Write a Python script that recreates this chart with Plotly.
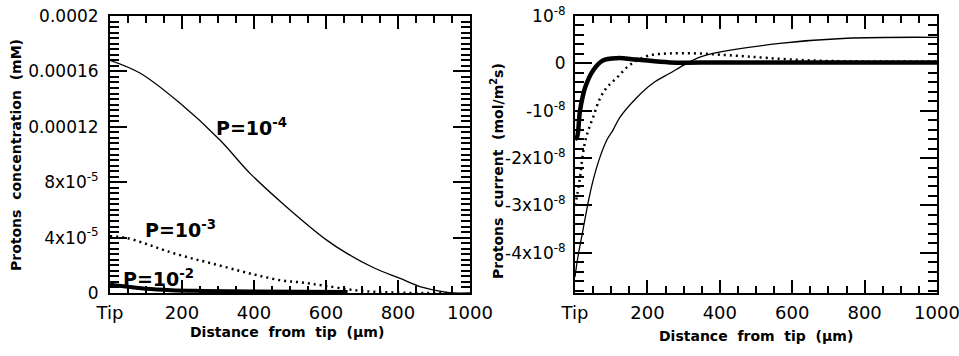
import plotly.graph_objects as go

# ---------- data: left panel (proton concentration, mM) ----------
dist_p4 = [0, 83, 194, 306, 389, 492, 603, 658, 731, 806, 869, 936, 953, 1000]
conc_p4 = [1.68e-4, 1.588e-4, 1.371e-4, 1.103e-4, 0.864e-4, 0.618e-4, 0.380e-4,
           0.286e-4, 0.184e-4, 0.105e-4, 0.040e-4, 0.004e-4, 0.0, 0.0]

dist_p3 = [0, 42, 97, 153, 217, 283, 356, 411, 478, 533, 592, 686, 778, 869, 950]
conc_p3 = [4.1e-5, 4.0e-5, 3.58e-5, 3.07e-5, 2.57e-5, 2.13e-5, 1.63e-5, 1.27e-5,
           0.90e-5, 0.76e-5, 0.54e-5, 0.18e-5, 0.04e-5, 0.0, 0.0]

dist_p2 = [0, 50, 100, 170, 250, 400, 660]
conc_p2 = [0.6e-5, 0.45e-5, 0.3e-5, 0.2e-5, 0.15e-5, 0.1e-5, 0.08e-5]

# ---------- data: right panel (proton current, mol/m2s) ----------
cdist_p2 = [0, 5.5, 14, 28, 50, 77, 116, 171, 262, 400, 600, 800, 1000]
curr_p2 = [-1.6e-8, -1.56e-8, -0.99e-8, -0.51e-8, -0.15e-8, 0.06e-8, 0.11e-8,
           0.08e-8, 0.02e-8, 0.02e-8, 0.02e-8, 0.02e-8, 0.02e-8]

cdist_p3 = [0, 5.5, 14, 22, 33, 50, 69, 88, 116, 144, 171, 207, 262, 337, 428, 657, 1000]
curr_p3 = [-3.0e-8, -2.8e-8, -2.4e-8, -1.9e-8, -1.5e-8, -1.14e-8, -0.74e-8, -0.51e-8,
           -0.30e-8, -0.08e-8, 0.06e-8, 0.17e-8, 0.21e-8, 0.21e-8, 0.17e-8, 0.06e-8, 0.04e-8]

cdist_p4 = [0, 8, 22, 36, 50, 69, 88, 105, 124, 171, 215, 262, 309, 345, 381, 566, 751, 1000]
curr_p4 = [-4.51e-8, -4.09e-8, -3.52e-8, -2.95e-8, -2.47e-8, -1.98e-8, -1.62e-8, -1.41e-8,
           -1.14e-8, -0.72e-8, -0.42e-8, -0.21e-8, 0.0, 0.13e-8, 0.21e-8, 0.42e-8, 0.53e-8, 0.55e-8]

# ---------- tick labels ----------
x_tickvals = [0, 200, 400, 600, 800, 1000]
x_ticktext = ["Tip", "200", "400", "600", "800", "1000"]
yl_tickvals = [0, 4e-5, 8e-5, 1.2e-4, 1.6e-4, 2e-4]
yl_ticktext = ["0", "4x10<sup>-5</sup>", "8x10<sup>-5</sup>", "0.00012", "0.00016", "0.0002"]
yr_tickvals = [-4e-8, -3e-8, -2e-8, -1e-8, 0, 1e-8]
yr_ticktext = ["-4x10<sup>-8</sup>", "-3x10<sup>-8</sup>", "-2x10<sup>-8</sup>",
               "-10<sup>-8</sup>", "0", "10<sup>-8</sup>"]

FONT = "DejaVu Sans, Arial, sans-serif"
W, H = 959, 356

fig = go.Figure()
fig.add_trace(go.Scatter(x=dist_p4, y=conc_p4, mode="lines", line=dict(color="black", width=1.3),
                         xaxis="x", yaxis="y", line_shape="spline"))
fig.add_trace(go.Scatter(x=dist_p3, y=conc_p3, mode="lines",
                         line=dict(color="black", width=2.5, dash="2px,4px"),
                         xaxis="x", yaxis="y", line_shape="spline"))
fig.add_trace(go.Scatter(x=dist_p2, y=conc_p2, mode="lines", line=dict(color="black", width=4),
                         xaxis="x", yaxis="y", line_shape="spline"))

fig.add_trace(go.Scatter(x=cdist_p4, y=curr_p4, mode="lines", line=dict(color="black", width=1.3),
                         xaxis="x2", yaxis="y2", line_shape="spline"))
fig.add_trace(go.Scatter(x=cdist_p3, y=curr_p3, mode="lines",
                         line=dict(color="black", width=2.5, dash="2px,4px"),
                         xaxis="x2", yaxis="y2", line_shape="spline"))
fig.add_trace(go.Scatter(x=cdist_p2, y=curr_p2, mode="lines", line=dict(color="black", width=4.5),
                         xaxis="x2", yaxis="y2", line_shape="spline"))

common = dict(showgrid=False, zeroline=False, showline=True, linecolor="black", linewidth=2,
              mirror="allticks", ticks="inside", tickcolor="black", tickwidth=2,
              automargin=False, ticklabeloverflow="allow")
minor_x = dict(dtick=50, ticks="inside", ticklen=7, tickwidth=1.5, tickcolor="black")

ydom = [1 - 293 / H, 1 - 16 / H]
fig.update_layout(
    template="none",
    width=W, height=H, margin=dict(l=0, r=0, t=0, b=0, pad=0, autoexpand=False),
    paper_bgcolor="white", plot_bgcolor="white", showlegend=False,
    xaxis=dict(domain=[110 / W, 470 / W], range=[0, 1000], tickvals=x_tickvals, ticktext=x_ticktext,
               ticklen=13, minor=minor_x, anchor="y", ticklabelstandoff=2,
               tickfont=dict(family=FONT, size=18, color="black"), **common),
    yaxis=dict(domain=ydom, range=[0, 2e-4], tickvals=yl_tickvals, ticktext=yl_ticktext,
               ticklen=17, minor=dict(dtick=4e-6, ticks="inside", ticklen=9, tickwidth=1.5, tickcolor="black"),
               anchor="x", ticklabelstandoff=6,
               tickfont=dict(family=FONT, size=17, color="black"), **common),
    xaxis2=dict(domain=[575 / W, 937 / W], range=[0, 1000], tickvals=x_tickvals, ticktext=x_ticktext,
                ticklen=13, minor=minor_x, anchor="y2", ticklabelstandoff=2,
                tickfont=dict(family=FONT, size=18, color="black"), **common),
    yaxis2=dict(domain=ydom, range=[-4.85e-8, 1.0e-8], tickvals=yr_tickvals, ticktext=yr_ticktext,
                ticklen=17, minor=dict(dtick=2e-9, ticks="inside", ticklen=9, tickwidth=1.5, tickcolor="black"),
                anchor="x2", ticklabelstandoff=4,
                tickfont=dict(family=FONT, size=17, color="black"), **common),
)

lab = dict(family=FONT, size=19, color="black")
for xv, yv, t in [(392, 1.197e-4, "-4"), (197, 4.59e-5, "-3"), (136, 1.05e-5, "-2")]:
    fig.add_annotation(x=xv, y=yv, xref="x", yref="y", text="<b>P=10<sup>" + t + "</sup></b>",
                       showarrow=False, font=lab, xanchor="center", yanchor="middle")

tfont = dict(family=FONT, size=14, color="black")
ann = dict(xref="paper", yref="paper", showarrow=False, font=tfont, xanchor="center", yanchor="middle")
fig.add_annotation(x=287 / W, y=1 - 332 / H, text="<b>Distance\u00a0 from\u00a0 tip\u00a0 (µm)</b>", **ann)
fig.add_annotation(x=756 / W, y=1 - 336 / H, text="<b>Distance\u00a0 from\u00a0 tip\u00a0 (µm)</b>", **ann)
fig.add_annotation(x=16 / W, y=1 - 155 / H, textangle=-90,
                   text="<b>Protons\u00a0 concentration\u00a0 (mM)</b>", **ann)
fig.add_annotation(x=497 / W, y=1 - 171 / H, textangle=-90,
                   text="<b>Protons\u00a0 current\u00a0 (mol/m<sup>2</sup>s)</b>", **ann)

fig.write_html("out.html", config={"displayModeBar": False},
               post_script="document.body.style.margin='0';document.body.style.overflow='hidden';")
